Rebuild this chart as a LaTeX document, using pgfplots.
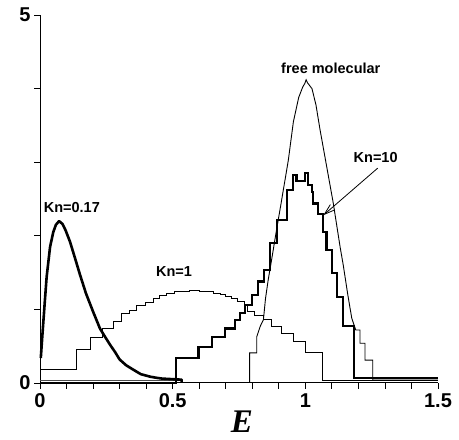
\documentclass[border=0pt]{standalone}
\usepackage{pgfplots}
\pgfplotsset{compat=1.18}
\usepackage{fontspec}
\setmainfont{Liberation Sans}
\newfontfamily\timesfont{Liberation Serif}
\usetikzlibrary{arrows.meta}
\begin{document}
\begin{tikzpicture}
\begin{axis}[
  at={(40pt,57pt)}, anchor=south west,
  scale only axis, width=398pt, height=368pt,
  xmin=0, xmax=1.5, ymin=0, ymax=5,
  axis x line*=bottom, axis y line*=left,
  axis line style={line width=1pt, black},
  xtick={0,0.5,1,1.5}, xticklabels={0,0.5,1,1.5},
  minor xtick={0.1,0.2,0.3,0.4,0.6,0.7,0.8,0.9,1.1,1.2,1.3,1.4},
  ytick={0,5}, yticklabels={0,5}, minor ytick={1,2,3,4},
  tick align=outside, major tick length=6pt, minor tick length=6pt,
  tick style={black, line width=0.8pt},
  /pgf/number format/assume math mode=true,
  ticklabel style={font=\fontsize{20}{20}\selectfont\bfseries},
  xticklabel style={yshift=-1pt},
  clip=false,
]
% thin baseline line near zero
\addplot[black!70, line width=0.9pt] coordinates {(0,0.035) (0.534,0.035)};
% Kn = 0.17 (thick smooth)
\addplot[black, line width=2.6pt, line join=round] coordinates {
(0.003,0.34) (0.01,0.7) (0.018,1.1) (0.025,1.44) (0.038,1.85) (0.05,2.05)
(0.06,2.15) (0.072,2.2) (0.085,2.16) (0.097,2.07) (0.113,1.92) (0.13,1.72)
(0.15,1.48) (0.173,1.22) (0.2,0.97) (0.226,0.74) (0.243,0.64) (0.264,0.52)
(0.283,0.42) (0.30,0.32) (0.325,0.24) (0.352,0.18) (0.38,0.12) (0.415,0.086)
(0.44,0.07) (0.46,0.06) (0.534,0.045) (0.534,0)};
% Kn = 1 (thin steps)
\addplot[black, line width=0.9pt, const plot] coordinates {
(0,0.19) (0.138,0.46) (0.192,0.62) (0.236,0.74) (0.277,0.83) (0.308,0.95)
(0.339,0.99) (0.364,1.06) (0.396,1.10) (0.427,1.15) (0.452,1.19) (0.478,1.21)
(0.505,1.24) (0.535,1.25) (0.565,1.26) (0.60,1.25) (0.63,1.24) (0.655,1.22)
(0.68,1.20) (0.70,1.17) (0.72,1.15) (0.745,1.11) (0.769,1.07) (0.78,0.97)
(0.81,0.92) (0.842,0.86) (0.873,0.77) (0.911,0.68) (0.955,0.57) (0.999,0.41)
(1.065,0.04) (1.5,0.04)};
% Kn = 10 (thick steps)
\addplot[black, line width=2.2pt, const plot] coordinates {
(0,0) (0.513,0.34) (0.597,0.485) (0.647,0.63) (0.697,0.74) (0.735,0.86)
(0.754,0.95) (0.773,1.06) (0.80,1.20) (0.823,1.38) (0.844,1.54) (0.867,1.90)
(0.892,2.22) (0.93,2.62) (0.955,2.83) (0.967,2.74) (0.999,2.85) (1.011,2.69)
(1.024,2.60) (1.03,2.44) (1.049,2.30) (1.068,2.05) (1.08,1.81) (1.10,1.49)
(1.12,1.17) (1.143,0.77) (1.183,0.065) (1.5,0.065)};
% free molecular (thin)
\addplot[black, line width=0.9pt] coordinates {
(0.79,0) (0.79,0.41) (0.817,0.41) (0.817,0.63) (0.83,0.77) (0.842,0.86)
(0.85,1.15) (0.86,1.40) (0.875,1.72) (0.89,2.05) (0.91,2.47) (0.936,3.03)
(0.955,3.55) (0.975,3.88) (0.99,4.02) (0.998,4.07) (1.003,4.12) (1.008,4.08)
(1.025,4.0) (1.04,3.78) (1.055,3.45) (1.07,3.15) (1.08,2.95) (1.09,2.75)
(1.105,2.45) (1.118,2.15) (1.131,1.85) (1.143,1.6) (1.16,1.2) (1.175,0.88)
(1.19,0.72) (1.206,0.72) (1.206,0.54) (1.225,0.54) (1.225,0.31) (1.254,0.31)
(1.254,0.04) (1.5,0.04)};
% labels
\node[font=\fontsize{14.5}{14.5}\selectfont\bfseries] at (axis cs:0.12,2.39) {Kn=0.17};
\node[font=\fontsize{14.5}{14.5}\selectfont\bfseries] at (axis cs:0.505,1.51) {Kn=1};
\node[font=\fontsize{14.5}{14.5}\selectfont\bfseries] at (axis cs:1.096,4.28) {free molecular};
\node[font=\fontsize{14.5}{14.5}\selectfont\bfseries] at (axis cs:1.265,3.06) {Kn=10};
\draw[black, line width=0.8pt, -{Straight Barb[length=11pt,width=7pt]}] (axis cs:1.273,2.92) -- (axis cs:1.068,2.28);
\end{axis}
\node[anchor=base, inner sep=0pt] at (242pt,7pt) {\fontsize{33}{33}\selectfont\timesfont\bfseries\itshape E};
\pgfresetboundingbox
\path (0,0) rectangle (459pt,440pt);
\end{tikzpicture}
\end{document}
